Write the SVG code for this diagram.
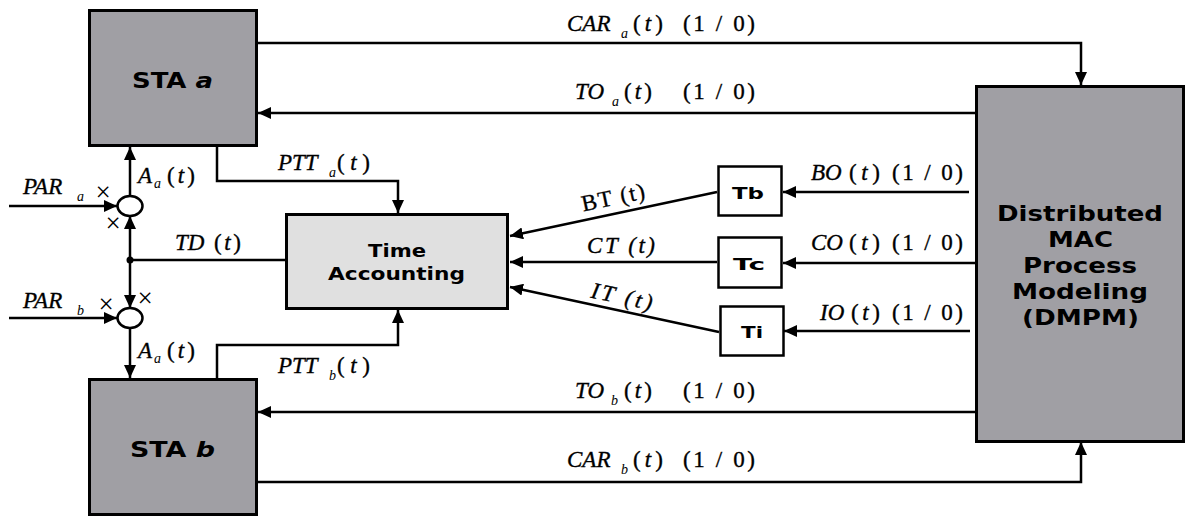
<svg xmlns="http://www.w3.org/2000/svg" width="1186" height="517" viewBox="0 0 1186 517">
  <style>
    .blk { fill: #a09fa4; stroke: #000; stroke-width: 3; }
    .lt { fill: #e0e0e0; stroke: #000; stroke-width: 3; }
    .wb { fill: #fff; stroke: #000; stroke-width: 2.5; }
    .ln { fill: none; stroke: #000; stroke-width: 2.5; }
    .lbl { font-family: "DejaVu Sans", Verdana, sans-serif; font-weight: bold; fill: #000; }
    .m { font-family: "Liberation Serif", "Times New Roman", serif; font-size: 23px; fill: #000; stroke: #000; stroke-width: 0.35; }
    .i { font-style: italic; }
    .s { font-family: "Liberation Serif", "Times New Roman", serif; font-size: 14px; font-style: italic; fill: #000; }
    .x { font-family: "Liberation Serif", "Times New Roman", serif; font-size: 27px; fill: #000; text-anchor: middle; }
  </style>
  <defs>
    <marker id="ah" markerUnits="userSpaceOnUse" markerWidth="14" markerHeight="12" refX="13" refY="6" orient="auto">
      <path d="M0,0 L13,6 L0,12 z" fill="#000"/>
    </marker>
  </defs>

  <!-- stations -->
  <g id="sta-a">
    <rect class="blk" x="89.5" y="10.5" width="167" height="135"/>
    <text class="lbl" x="132" y="88" font-size="21" textLength="81" lengthAdjust="spacingAndGlyphs">STA <tspan font-style="italic">a</tspan></text>
  </g>
  <g id="sta-b">
    <rect class="blk" x="89.5" y="379.5" width="167" height="135"/>
    <text class="lbl" x="130" y="457" font-size="21" textLength="85" lengthAdjust="spacingAndGlyphs">STA <tspan font-style="italic">b</tspan></text>
  </g>

  <!-- MAC process model -->
  <g id="dmpm">
    <rect class="blk" x="976.5" y="86.5" width="207" height="355"/>
    <text class="lbl" x="997" y="221" font-size="21" textLength="166" lengthAdjust="spacingAndGlyphs">Distributed</text>
    <text class="lbl" x="1048" y="247" font-size="21" textLength="65" lengthAdjust="spacingAndGlyphs">MAC</text>
    <text class="lbl" x="1023" y="273" font-size="21" textLength="114" lengthAdjust="spacingAndGlyphs">Process</text>
    <text class="lbl" x="1012" y="299" font-size="21" textLength="136" lengthAdjust="spacingAndGlyphs">Modeling</text>
    <text class="lbl" x="1022" y="325" font-size="21" textLength="117" lengthAdjust="spacingAndGlyphs">(DMPM)</text>
  </g>

  <!-- time accounting -->
  <g id="time-accounting">
    <rect class="lt" x="286.5" y="214.5" width="221" height="94"/>
    <text class="lbl" x="368" y="257" font-size="17" textLength="58" lengthAdjust="spacingAndGlyphs">Time</text>
    <text class="lbl" x="328" y="280" font-size="17" textLength="137" lengthAdjust="spacingAndGlyphs">Accounting</text>
  </g>

  <!-- timers -->
  <g id="tb">
    <rect class="wb" x="718.5" y="166.5" width="63" height="49"/>
    <text class="lbl" x="732" y="199" font-size="16" textLength="32" lengthAdjust="spacingAndGlyphs">Tb</text>
  </g>
  <g id="tc">
    <rect class="wb" x="718.5" y="237.5" width="63" height="50"/>
    <text class="lbl" x="733" y="270" font-size="16" textLength="32" lengthAdjust="spacingAndGlyphs">Tc</text>
  </g>
  <g id="ti">
    <rect class="wb" x="720.5" y="306.5" width="63" height="49"/>
    <text class="lbl" x="741" y="338" font-size="16" textLength="22" lengthAdjust="spacingAndGlyphs">Ti</text>
  </g>

  <!-- summing junctions -->
  <g id="sum-a">
    <ellipse cx="130" cy="206" rx="12.5" ry="10" fill="#fff" stroke="#000" stroke-width="2.5"/>
  </g>
  <g id="sum-b">
    <ellipse cx="130" cy="318" rx="12.5" ry="10" fill="#fff" stroke="#000" stroke-width="2.5"/>
  </g>

  <!-- connectors -->
  <g id="connectors">
    <path class="ln" d="M258,43 H1081 V85" marker-end="url(#ah)"/>
    <path class="ln" d="M975,113 H258" marker-end="url(#ah)"/>
    <path class="ln" d="M975,412 H258" marker-end="url(#ah)"/>
    <path class="ln" d="M258,482 H1081 V442" marker-end="url(#ah)"/>

    <path class="ln" d="M217,147 V181 H398 V213" marker-end="url(#ah)"/>
    <path class="ln" d="M217,378 V345 H398 V310" marker-end="url(#ah)"/>

    <path class="ln" d="M130,260 H285"/>
    <path class="ln" d="M130,260 V216" marker-end="url(#ah)"/>
    <path class="ln" d="M130,260 V308" marker-end="url(#ah)"/>
    <path class="ln" d="M130,196 V147" marker-end="url(#ah)"/>
    <path class="ln" d="M130,328 V378" marker-end="url(#ah)"/>
    <path class="ln" d="M9,206 H117" marker-end="url(#ah)"/>
    <path class="ln" d="M9,318 H117" marker-end="url(#ah)"/>
    <circle cx="130" cy="260" r="3.5" fill="#000"/>

    <path class="ln" d="M717,192 L510,236" marker-end="url(#ah)"/>
    <path class="ln" d="M717,262 H510" marker-end="url(#ah)"/>
    <path class="ln" d="M719,332 L510,287" marker-end="url(#ah)"/>

    <path class="ln" d="M969,192 H783" marker-end="url(#ah)"/>
    <path class="ln" d="M975,263 H783" marker-end="url(#ah)"/>
    <path class="ln" d="M970,331 H784" marker-end="url(#ah)"/>
  </g>

  <!-- signal labels -->
  <g id="labels">
    <text class="m i" x="567" y="31">CAR</text>
    <text class="s" x="621" y="38">a</text>
    <text class="m" x="633" y="31" textLength="30">(<tspan class="i">t</tspan>)</text>
    <text class="m" x="683" y="31" textLength="72">(1 / 0)</text>

    <text class="m i" x="575" y="99">TO</text>
    <text class="s" x="612" y="106">a</text>
    <text class="m" x="624" y="99" textLength="28">(<tspan class="i">t</tspan>)</text>
    <text class="m" x="683" y="99" textLength="72">(1 / 0)</text>

    <text class="m i" x="575" y="398">TO</text>
    <text class="s" x="611" y="405">b</text>
    <text class="m" x="624" y="398" textLength="28">(<tspan class="i">t</tspan>)</text>
    <text class="m" x="683" y="398" textLength="72">(1 / 0)</text>

    <text class="m i" x="567" y="467">CAR</text>
    <text class="s" x="621" y="474">b</text>
    <text class="m" x="633" y="467" textLength="30">(<tspan class="i">t</tspan>)</text>
    <text class="m" x="683" y="467" textLength="72">(1 / 0)</text>

    <text class="m i" x="811" y="180">BO</text>
    <text class="m" x="849" y="180" textLength="31">(<tspan class="i">t</tspan>)</text>
    <text class="m" x="892" y="180" textLength="71">(1 / 0)</text>

    <text class="m i" x="811" y="250">CO</text>
    <text class="m" x="849" y="250" textLength="31">(<tspan class="i">t</tspan>)</text>
    <text class="m" x="892" y="250" textLength="71">(1 / 0)</text>

    <text class="m i" x="820" y="320">IO</text>
    <text class="m" x="851" y="320" textLength="29">(<tspan class="i">t</tspan>)</text>
    <text class="m" x="892" y="320" textLength="71">(1 / 0)</text>

    <text class="m" x="613" y="205" text-anchor="middle" textLength="64" transform="rotate(-12 613 197)">BT (t)</text>
    <text class="m i" x="587" y="253" textLength="68">CT (t)</text>
    <text class="m i" x="622" y="304" text-anchor="middle" textLength="62" transform="rotate(12 622 296)">IT (t)</text>

    <text class="m i" x="278" y="170">PTT</text>
    <text class="s" x="329" y="177">a</text>
    <text class="m" x="337" y="170" textLength="33">(<tspan class="i">t</tspan>)</text>

    <text class="m i" x="278" y="373">PTT</text>
    <text class="s" x="329" y="380">b</text>
    <text class="m" x="337" y="373" textLength="33">(<tspan class="i">t</tspan>)</text>

    <text class="m i" x="138" y="183">A</text>
    <text class="s" x="154" y="188">a</text>
    <text class="m" x="167" y="183" textLength="28">(<tspan class="i">t</tspan>)</text>

    <text class="m i" x="138" y="358">A</text>
    <text class="s" x="154" y="363">a</text>
    <text class="m" x="167" y="358" textLength="28">(<tspan class="i">t</tspan>)</text>

    <text class="m i" x="23" y="194">PAR</text>
    <text class="s" x="77" y="201">a</text>
    <text class="m i" x="23" y="308">PAR</text>
    <text class="s" x="77" y="315">b</text>

    <text class="m i" x="175" y="250">TD</text>
    <text class="m" x="214" y="250" textLength="27">(<tspan class="i">t</tspan>)</text>

    <text class="x" x="103" y="201">×</text>
    <text class="x" x="113" y="232">×</text>
    <text class="x" x="106" y="313">×</text>
    <text class="x" x="145" y="307">×</text>
  </g>
</svg>
